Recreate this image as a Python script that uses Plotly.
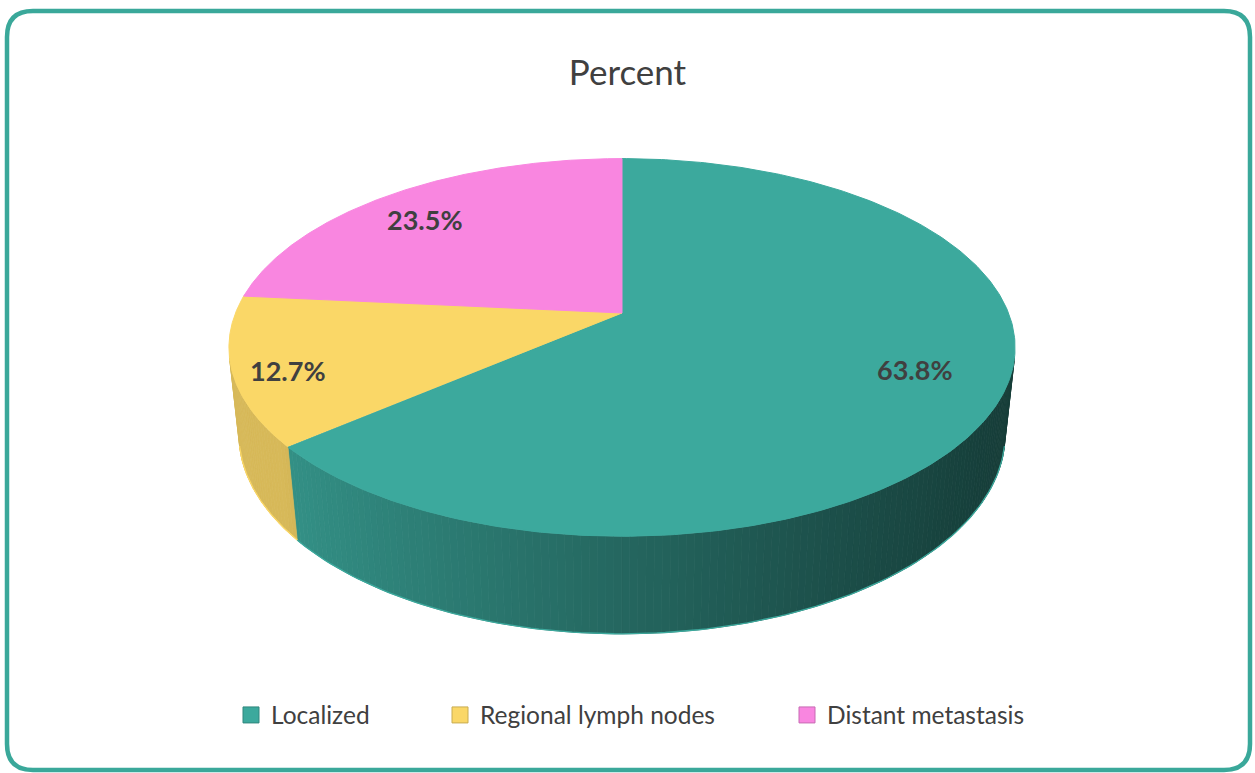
import numpy as np
import plotly.graph_objects as go

# ---------------- data ----------------
categories = ["Localized", "Regional lymph nodes", "Distant metastasis"]
percent = [63.8, 12.7, 23.5]
label_text = ["63.8%", "12.7%", "23.5%"]
top_colors = ["#3CA99D", "#FAD767", "#F986E0"]

# ---------------- geometry / style ----------------
W, H = 1255, 773
CX, CY = 622, 313          # pie centre on the page
F = 1868                   # focal length (px)
DIST = 4.833               # camera distance (pie radii)
SIN_T, COS_T = 0.4723, 0.881   # camera elevation
DEPTH = 0.258              # pie thickness (pie radii)
FONT = "Lato"
TXT = "#404040"
LABEL_RADIUS = [0.775, 0.87, 0.795]   # label placement (style)
LABEL_ANGLE_SHIFT = -2.7


def project(X, Y, Z):
    X = np.asarray(X, float); Y = np.asarray(Y, float); Z = np.asarray(Z, float)
    xv = X
    yv = Y * COS_T + Z * SIN_T
    zv = DIST + Z * COS_T - Y * SIN_T
    return CX + F * xv / zv, CY - F * yv / zv


def rim(alpha_deg, y, r=1.0):
    a = np.radians(alpha_deg)
    return project(r * np.sin(a), np.full_like(a, y, dtype=float), r * np.cos(a))


def hex2rgb(h):
    h = h.lstrip("#")
    return [int(h[i:i + 2], 16) for i in (0, 2, 4)]


def shade(hexcol, k):
    r, g, b = hex2rgb(hexcol)
    return "rgb(%d,%d,%d)" % (round(r * k), round(g * k), round(b * k))


def side_factor(x):
    t = np.clip((x - 280) / (1010 - 280), 0, 1)
    return 0.86 - 0.50 * t ** 0.9


total = sum(percent)
bounds = np.concatenate([[0], np.cumsum(percent) / total * 360.0])

a_min = np.degrees(np.arccos(-1.0 / (DIST * COS_T)))
a_max = 360.0 - a_min

fig = go.Figure()

# ---- side walls (visible front part), shaded by horizontal position ----
for i, col in enumerate(top_colors):
    lo, hi = max(bounds[i], a_min), min(bounds[i + 1], a_max)
    if hi <= lo:
        continue
    n = max(2, int(np.ceil((hi - lo) / 1.0)))
    edges = np.linspace(lo, hi, n + 1)
    for b0, b1 in zip(edges[:-1], edges[1:]):
        seg = np.linspace(b0, b1, 4)
        tx, ty = rim(seg, 0.0)
        bx, by = rim(seg[::-1], -DEPTH)
        xs = np.concatenate([tx, bx, tx[:1]])
        ys = np.concatenate([ty, by, ty[:1]])
        c = shade(col, side_factor(float(np.mean(tx))))
        fig.add_trace(go.Scatter(x=xs, y=ys, mode="lines", fill="toself",
                                 fillcolor=c, line=dict(color=c, width=0.8),
                                 hoverinfo="skip", showlegend=False))
    # light bottom rim edge
    seg = np.linspace(lo, hi, 120)
    bx, by = rim(seg, -DEPTH)
    fig.add_trace(go.Scatter(x=bx, y=by, mode="lines",
                             line=dict(color=col, width=1.3),
                             hoverinfo="skip", showlegend=False))

# ---- top faces ----
for i, (cat, col) in enumerate(zip(categories, top_colors)):
    seg = np.linspace(bounds[i], bounds[i + 1], 300)
    ax, ay = rim(seg, 0.0)
    cx0, cy0 = project(0.0, 0.0, 0.0)
    xs = np.concatenate([[cx0], ax, [cx0]])
    ys = np.concatenate([[cy0], ay, [cy0]])
    fig.add_trace(go.Scatter(x=xs, y=ys, mode="lines", fill="toself",
                             fillcolor=col, line=dict(color=col, width=1),
                             name=cat, hoverinfo="name", showlegend=False))

# ---- data labels ----
for i, txt in enumerate(label_text):
    mid = (bounds[i] + bounds[i + 1]) / 2.0 + LABEL_ANGLE_SHIFT
    lx, ly = rim(np.array([mid]), 0.0, r=LABEL_RADIUS[i])
    fig.add_annotation(x=float(lx[0]), y=float(ly[0]), text="<b>%s</b>" % txt,
                       showarrow=False, xref="x", yref="y",
                       font=dict(family=FONT, size=27, color=TXT))

# ---- legend entries (one legend per entry, placed like the original) ----
legend_text_x = [273, 482, 829]
legend_names = ["legend", "legend2", "legend3"]
for cat, col, ln in zip(categories, top_colors, legend_names):
    fig.add_trace(go.Scatter(x=[None], y=[None], mode="markers", name=cat,
                             marker=dict(symbol="square", size=16, color=col,
                                         line=dict(color=shade(col, 0.8), width=1)),
                             legend=ln, showlegend=True))

legend_common = dict(orientation="h", yanchor="middle", xanchor="left",
                     y=1 - 715 / H, bgcolor="rgba(0,0,0,0)",
                     font=dict(family=FONT, size=24.5, color=TXT))
layout_legends = {}
for ln, tx in zip(legend_names, legend_text_x):
    layout_legends[ln] = dict(legend_common, x=(tx - 42) / W)

# ---- rounded border ----
x0, y0, x1, y1, r = 7, 11, 1250, 770, 26
path = (f"M{x0 + r},{y0} L{x1 - r},{y0} Q{x1},{y0} {x1},{y0 + r} "
        f"L{x1},{y1 - r} Q{x1},{y1} {x1 - r},{y1} L{x0 + r},{y1} "
        f"Q{x0},{y1} {x0},{y1 - r} L{x0},{y0 + r} Q{x0},{y0} {x0 + r},{y0} Z")

fig.update_layout(
    width=W, height=H, autosize=False,
    margin=dict(l=0, r=0, t=0, b=0),
    paper_bgcolor="white", plot_bgcolor="white",
    xaxis=dict(range=[0, W], visible=False, fixedrange=True),
    yaxis=dict(range=[H, 0], visible=False, fixedrange=True),
    title=dict(text="Percent", x=0.5, xanchor="center", y=1 - 73 / H,
               yanchor="middle", font=dict(family=FONT, size=35, color=TXT)),
    shapes=[dict(type="path", path=path, xref="x", yref="y",
                 line=dict(color="#3AA89A", width=4.5), fillcolor="rgba(0,0,0,0)",
                 layer="above")],
    showlegend=True,
    **layout_legends,
)

fig.write_html(
    "out.html",
    config={"displayModeBar": False},
    post_script="document.body.style.margin='0';document.body.style.overflow='hidden';",
)
